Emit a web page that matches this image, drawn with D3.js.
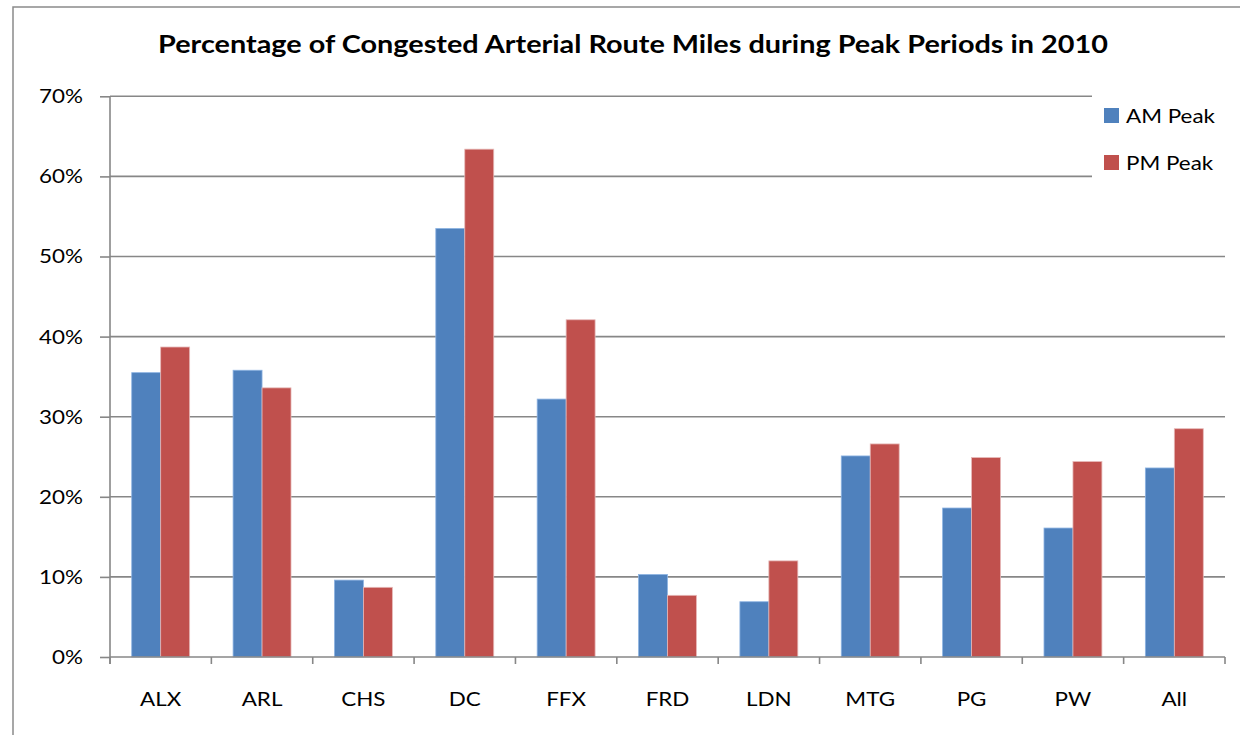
<!DOCTYPE html>
<html>
<head>
<meta charset="utf-8">
<script src="https://cdn.jsdelivr.net/npm/d3@7"></script>
<style>
  body { margin: 0; background: #fff; }
  svg text { font-family: Lato, "Open Sans", sans-serif; fill: #000; }
</style>
</head>
<body>
<script>
'use strict';

// chart data
var categories = ['ALX', 'ARL', 'CHS', 'DC', 'FFX', 'FRD', 'LDN', 'MTG', 'PG', 'PW', 'All'];
var seriesNames = ['AM Peak', 'PM Peak'];
var amPeak = [0.355, 0.358, 0.096, 0.535, 0.322, 0.103, 0.069, 0.251, 0.186, 0.161, 0.236];
var pmPeak = [0.387, 0.336, 0.087, 0.634, 0.421, 0.077, 0.120, 0.266, 0.249, 0.244, 0.285];
var yTicks = [0, 0.1, 0.2, 0.3, 0.4, 0.5, 0.6, 0.7];
var title = 'Percentage of Congested Arterial Route Miles during Peak Periods in 2010';

// sizes and colours
var width = 1240;
var height = 735;
var plot = {left: 110, right: 1225, top: 96.3, bottom: 657};
var colors = ['#4f81bd', '#c0504d'];
var edges = ['#8db3e2', '#e6b9b8'];
var gridColor = '#878787';
var stretch = 1.12; // original text looks a bit wide

// widen a text selection horizontally
function widen(sel, factor) {
    sel.each(function() {
        var len = this.getComputedTextLength();
        d3.select(this)
            .attr('textLength', len * factor)
            .attr('lengthAdjust', 'spacingAndGlyphs');
    });
}

var svg = d3.select('body').append('svg')
    .attr('width', width)
    .attr('height', height);

// outer chart border (right/bottom fall outside the picture)
svg.append('rect')
    .attr('x', 13).attr('y', 7)
    .attr('width', width + 20).attr('height', height + 20)
    .attr('fill', '#fff')
    .attr('stroke', '#8a8a8a')
    .attr('stroke-width', 1.5);

// scales
var x0 = d3.scaleBand()
    .domain(categories)
    .range([plot.left, plot.right])
    .paddingInner(0).paddingOuter(0);

var x1 = d3.scaleBand()
    .domain(seriesNames)
    .range([0, x0.bandwidth()])
    .paddingInner(0).paddingOuter(0.75);

var y = d3.scaleLinear()
    .domain([0, 0.7])
    .range([plot.bottom, plot.top]);

// gridlines
svg.append('g')
    .selectAll('line')
    .data(yTicks.filter(function(d) { return d > 0; }))
    .enter().append('line')
    .attr('x1', plot.left).attr('x2', plot.right)
    .attr('y1', function(d) { return y(d); })
    .attr('y2', function(d) { return y(d); })
    .attr('stroke', gridColor)
    .attr('stroke-width', 1.6);

// y axis
var yAxis = svg.append('g')
    .attr('transform', 'translate(' + plot.left + ',0)')
    .call(d3.axisLeft(y).tickValues(yTicks).tickFormat(d3.format('.0%'))
        .tickSize(10).tickSizeOuter(0).tickPadding(17));
yAxis.select('.domain').remove();
yAxis.append('line')
    .attr('x1', 0).attr('x2', 0)
    .attr('y1', plot.top).attr('y2', plot.bottom + 7)
    .attr('stroke', gridColor).attr('stroke-width', 1.6);
yAxis.selectAll('.tick line').attr('stroke', gridColor).attr('stroke-width', 1.6);
yAxis.selectAll('.tick text')
    .attr('font-family', 'Lato, sans-serif')
    .attr('font-size', 20)
    .attr('fill', '#000')
    .call(widen, stretch);

// bars
var rows = categories.map(function(c, i) {
    return {cat: c, values: [amPeak[i], pmPeak[i]]};
});

var groups = svg.append('g')
    .selectAll('g')
    .data(rows)
    .enter().append('g')
    .attr('transform', function(d) { return 'translate(' + x0(d.cat) + ',0)'; });

groups.selectAll('rect')
    .data(function(d) {
        return d.values.map(function(v, j) { return {series: seriesNames[j], idx: j, value: v}; });
    })
    .enter().append('rect')
    .attr('x', function(d) { return x1(d.series); })
    .attr('width', x1.bandwidth())
    .attr('y', function(d) { return y(d.value); })
    .attr('height', function(d) { return y(0) - y(d.value); })
    .attr('fill', function(d) { return colors[d.idx]; })
    .attr('stroke', function(d) { return edges[d.idx]; })
    .attr('stroke-width', 0.8);

// x axis with ticks between categories
var xAxis = svg.append('g')
    .attr('transform', 'translate(0,' + plot.bottom + ')');
xAxis.append('line')
    .attr('x1', plot.left).attr('x2', plot.right)
    .attr('stroke', gridColor).attr('stroke-width', 1.6);
xAxis.selectAll('.sep')
    .data(categories.concat(['end']))
    .enter().append('line')
    .attr('class', 'sep')
    .attr('x1', function(d, i) { return i < categories.length ? x0(d) : plot.right; })
    .attr('x2', function(d, i) { return i < categories.length ? x0(d) : plot.right; })
    .attr('y1', 0).attr('y2', 7)
    .attr('stroke', gridColor).attr('stroke-width', 1.6);
xAxis.selectAll('.lab')
    .data(categories)
    .enter().append('text')
    .attr('class', 'lab')
    .attr('x', function(d) { return x0(d) + x0.bandwidth() / 2; })
    .attr('y', 49)
    .attr('text-anchor', 'middle')
    .attr('font-size', 20)
    .text(function(d) { return d; })
    .call(widen, stretch);

// legend
var legend = svg.append('g');
legend.append('rect')
    .attr('x', 1092).attr('y', 90)
    .attr('width', 140).attr('height', 105)
    .attr('fill', '#fff');
var items = legend.selectAll('.item')
    .data(seriesNames)
    .enter().append('g')
    .attr('class', 'item')
    .attr('transform', function(d, i) { return 'translate(1104,' + (108 + i * 47) + ')'; });
items.append('rect')
    .attr('width', 15).attr('height', 15)
    .attr('fill', function(d, i) { return colors[i]; });
items.append('text')
    .attr('x', 22).attr('y', 15)
    .attr('font-size', 20)
    .text(function(d) { return d; })
    .call(widen, stretch);

// title
svg.append('text')
    .attr('x', 633).attr('y', 53)
    .attr('text-anchor', 'middle')
    .attr('font-size', 24)
    .attr('font-weight', 'bold')
    .attr('textLength', 950)
    .attr('lengthAdjust', 'spacingAndGlyphs')
    .text(title);
</script>
</body>
</html>
